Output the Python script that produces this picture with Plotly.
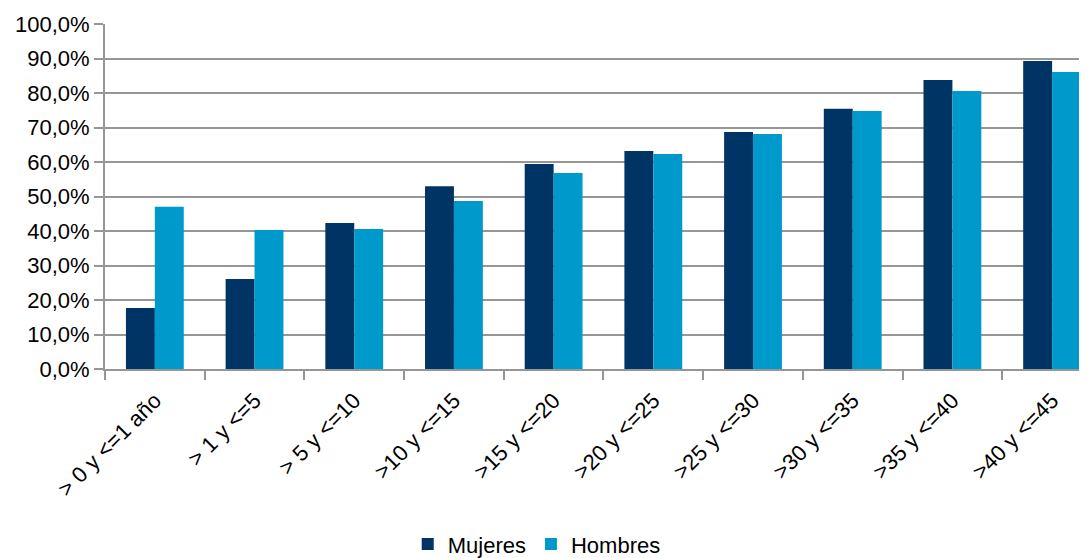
import plotly.graph_objects as go

categories = ["> 0 y <=1 año", "> 1 y <=5", "> 5 y <=10", ">10 y <=15", ">15 y <=20",
              ">20 y <=25", ">25 y <=30", ">30 y <=35", ">35 y <=40", ">40 y <=45"]
mujeres = [17.7, 26.1, 42.3, 53.0, 59.4, 63.2, 68.7, 75.4, 83.8, 89.3]
hombres = [47.0, 40.3, 40.6, 48.7, 56.8, 62.3, 68.1, 74.8, 80.6, 86.1]
y_ticks = [0, 10, 20, 30, 40, 50, 60, 70, 80, 90, 100]
y_tick_text = ["0,0%", "10,0%", "20,0%", "30,0%", "40,0%", "50,0%", "60,0%",
               "70,0%", "80,0%", "90,0%", "100,0%"]

font_family = "Liberation Sans, Arial, sans-serif"

fig = go.Figure()
fig.add_trace(go.Bar(name="Mujeres", x=categories, y=mujeres, marker_color="#003465",
                     marker_line_width=0))
fig.add_trace(go.Bar(name="Hombres", x=categories, y=hombres, marker_color="#0099CC",
                     marker_line_width=0))

fig.update_layout(
    width=1079, height=550,
    margin=dict(l=97, r=0, t=16, b=189, autoexpand=False),
    paper_bgcolor="white", plot_bgcolor="white",
    barmode="group", bargap=0.42, bargroupgap=0,
    font=dict(family=font_family, size=22, color="#000000"),
    legend=dict(orientation="h", x=0.49, xanchor="center", xref="container",
                y=0.025, yanchor="middle", yref="container",
                font=dict(size=22), itemwidth=30, traceorder="normal"),
    xaxis=dict(range=[-0.5, 9.35], tickangle=-45, showgrid=False,
               showline=True, linecolor="#969696", linewidth=2,
               ticks="outside", tickson="boundaries", ticklen=9, tickcolor="#969696", tickwidth=2,
               ticklabelstandoff=8, tickfont=dict(size=22)),
    yaxis=dict(range=[0, 100], tickvals=y_ticks, ticktext=y_tick_text,
               showgrid=True, gridcolor="#969696", gridwidth=2,
               showline=True, linecolor="#969696", linewidth=2,
               ticks="outside", ticklen=9, tickcolor="#969696", tickwidth=2,
               zeroline=False, tickfont=dict(size=22)),
)

fig.write_html("out.html")
